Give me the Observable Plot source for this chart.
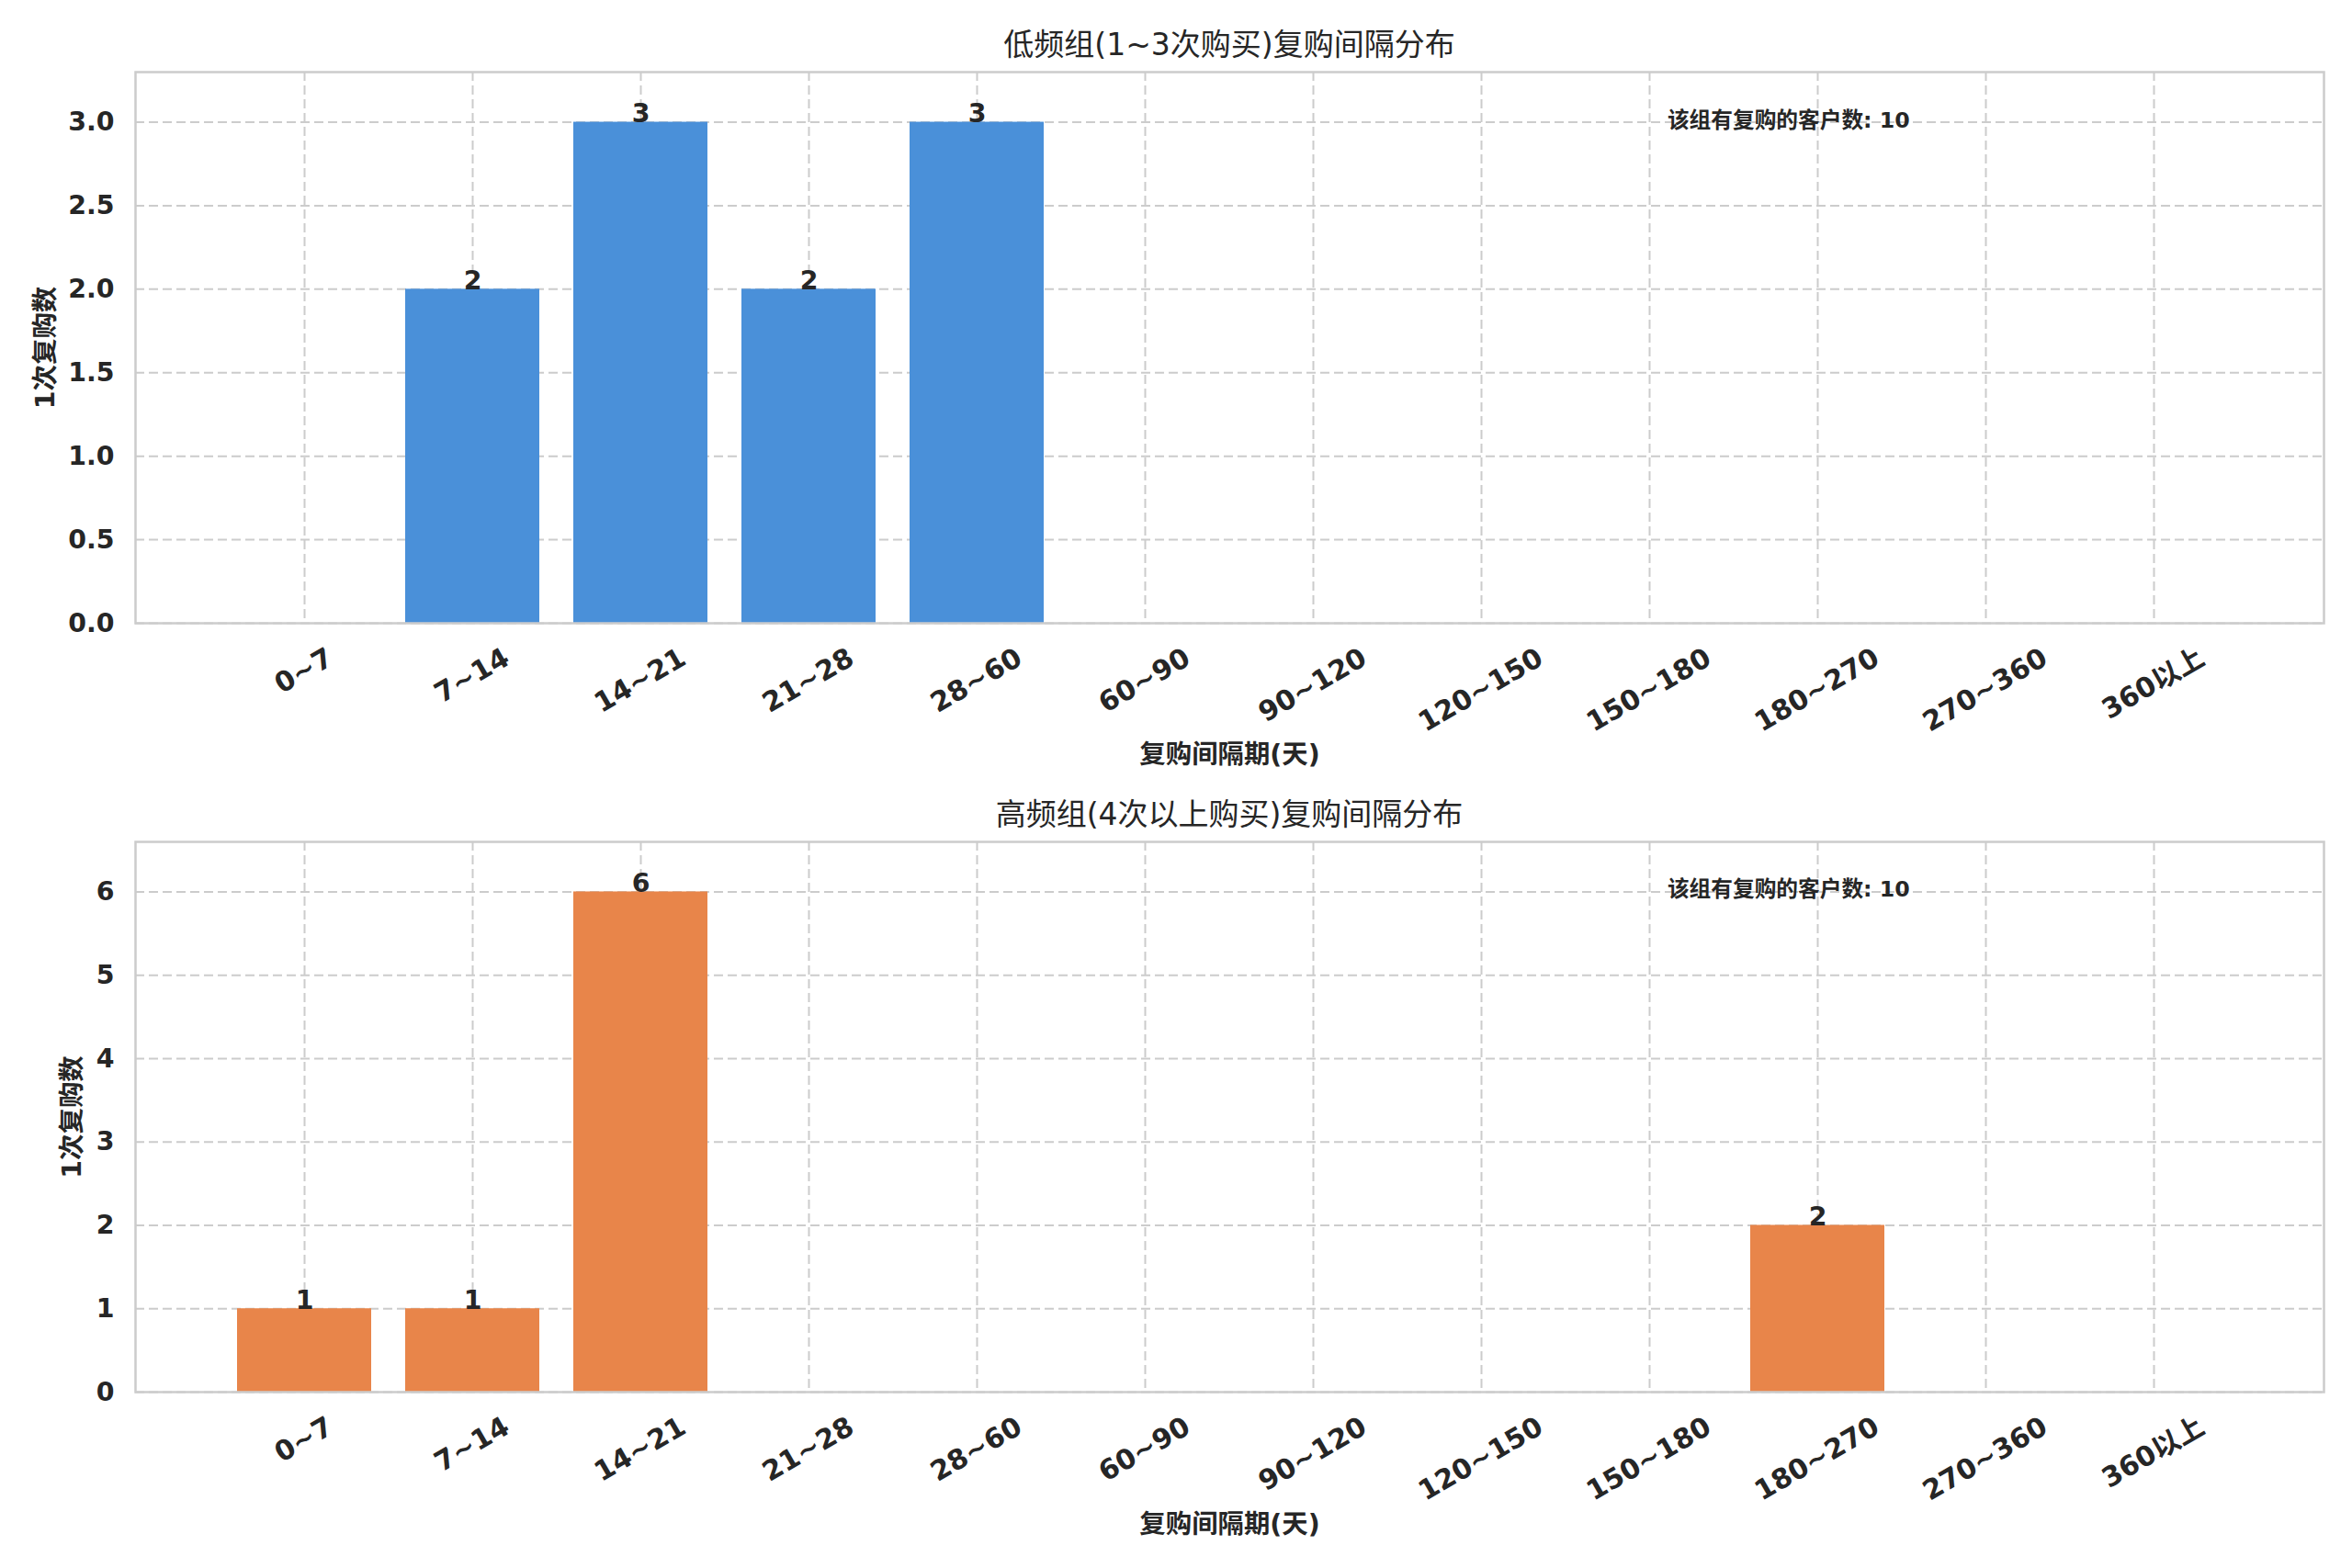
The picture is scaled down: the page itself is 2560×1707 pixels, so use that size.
<!DOCTYPE html>
<html><head><meta charset="utf-8">
<script src="https://cdn.jsdelivr.net/npm/d3@7"></script>
<script src="https://cdn.jsdelivr.net/npm/@observablehq/plot@0.6"></script>
<style>
html,body{margin:0;padding:0;background:#fff;}
#root{position:relative;width:2560px;height:1707px;background:#fff;font-family:"DejaVu Sans","Noto Sans CJK SC",sans-serif;color:#262626;overflow:hidden;}
.title{position:absolute;left:147px;width:2382px;text-align:center;font-size:33px;line-height:40px;white-space:nowrap;color:#262626;}
.panel{position:absolute;left:0;}
</style></head><body><div id="root"></div>
<script>
// ---- data ----
const categories = ["0~7","7~14","14~21","21~28","28~60","60~90","90~120","120~150","150~180","180~270","270~360","360以上"];
const lowValues  = [0,2,3,2,3,0,0,0,0,0,0,0];
const highValues = [1,1,6,0,0,0,0,0,0,2,0,0];
const lowYTicks  = [0,0.5,1,1.5,2,2.5,3];
const highYTicks = [0,1,2,3,4,5,6];
const lowTitle  = "低频组(1~3次购买)复购间隔分布";
const highTitle = "高频组(4次以上购买)复购间隔分布";
const xLabel = "复购间隔期(天)";
const yLabel = "1次复购数";
const lowNote  = "该组有复购的客户数: 10";
const highNote = "该组有复购的客户数: 10";
const lowColor = "#4a90d9";
const highColor = "#e8854a";

const FONT = '"DejaVu Sans","Noto Sans CJK SC",sans-serif';
const TICK_FS = 30;
const root = document.getElementById("root");

function panel(o){
  const W = 2560, ml = 147, mr = 31, mt = 8;
  const innerW = W - ml - mr;
  const data = categories.map((c,i)=>({cat:c, value:o.values[i]}));
  const yMax = d3.max(o.values) * 1.1;
  const gridStyle = {stroke:"#cccccc", strokeOpacity:1, strokeWidth:2, strokeDasharray:"10,5"};
  const chart = Plot.plot({
    width: W, height: mt + o.innerH + o.mb,
    marginLeft: ml, marginRight: mr, marginTop: mt, marginBottom: o.mb,
    style: {fontFamily: FONT, color: "#262626", background: "#fff", overflow: "visible"},
    x: {domain: categories, paddingInner: 0.2, paddingOuter: 0.59, align: 0.5, label: null},
    y: {domain: [0, yMax], label: null},
    marks: [
      Plot.gridY(o.yTicks, gridStyle),
      Plot.gridX(categories, gridStyle),
      Plot.barY(data, {x: "cat", y: "value", fill: o.color}),
      Plot.text(data.filter(d => d.value > 0), {x: "cat", y: "value", text: d => String(d.value), lineAnchor: "bottom", fontSize: 28.4, fontWeight: "bold", fill: "#262626"}),
      Plot.text([o.note], {text: d => d, frameAnchor: "bottom-left", dx: 0.7 * innerW, dy: -0.9 * o.innerH, textAnchor: "start", lineAnchor: "bottom", fontSize: 23.7, fontWeight: "bold", fill: "#262626"}),
      Plot.frame({stroke: "#cccccc", strokeWidth: 2.5}),
      Plot.axisY(o.yTicks, {tickSize: 0, tickPadding: 23, fontSize: 28.4, fontWeight: "bold", tickFormat: o.fmt, label: null}),
      Plot.axisX(categories, {tickSize: 0, tickRotate: -30, fontSize: TICK_FS, fontWeight: "bold", label: null}),
      Plot.text([yLabel], {text: d => d, frameAnchor: "left", dx: o.yLabelDx, rotate: -90, textAnchor: "middle", lineAnchor: "middle", fontSize: 28.4, fontWeight: "bold", fill: "#262626"}),
      Plot.text([xLabel], {text: d => d, frameAnchor: "bottom", dy: o.xLabelDy, textAnchor: "middle", lineAnchor: "middle", fontSize: 28.4, fontWeight: "bold", fill: "#262626"})
    ]
  });
  const t = document.createElement("div");
  t.className = "title";
  t.style.top = o.titleTop + "px";
  t.textContent = o.title;
  root.appendChild(t);
  chart.classList.add("panel");
  chart.style.top = o.svgTop + "px";
  root.appendChild(chart);

  // center the rotated tick labels under their ticks (matplotlib style)
  const xs = chart.scale("x");
  const frameBottom = mt + o.innerH;
  const g = chart.querySelector('g[aria-label="x-axis tick label"]');
  if (g) {
    g.removeAttribute("transform");
    const texts = g.querySelectorAll("text");
    texts.forEach((el, i) => {
      const cat = categories[i];
      const xc = xs.apply(cat) + xs.bandwidth / 2;
      el.setAttribute("text-anchor", "middle");
      el.removeAttribute("x"); el.removeAttribute("y");
      el.setAttribute("dy", "0.3em");
      const w = el.getComputedTextLength();
      const h = TICK_FS * 1.1;
      const H = w * 0.5 + h * 0.866;
      const yc = frameBottom + 22 + H / 2;
      el.setAttribute("transform", `translate(${xc},${yc}) rotate(-30)`);
    });
  }
}

panel({values: lowValues, color: lowColor, yTicks: lowYTicks, fmt: d3.format(".1f"), title: lowTitle, note: lowNote,
  titleTop: 29, svgTop: 70, innerH: 600, mb: 190, yLabelDx: -98, xLabelDy: 143});
panel({values: highValues, color: highColor, yTicks: highYTicks, fmt: d3.format("d"), title: highTitle, note: highNote,
  titleTop: 867, svgTop: 908, innerH: 599, mb: 180, yLabelDx: -69, xLabelDy: 144});
</script>
</body></html>
